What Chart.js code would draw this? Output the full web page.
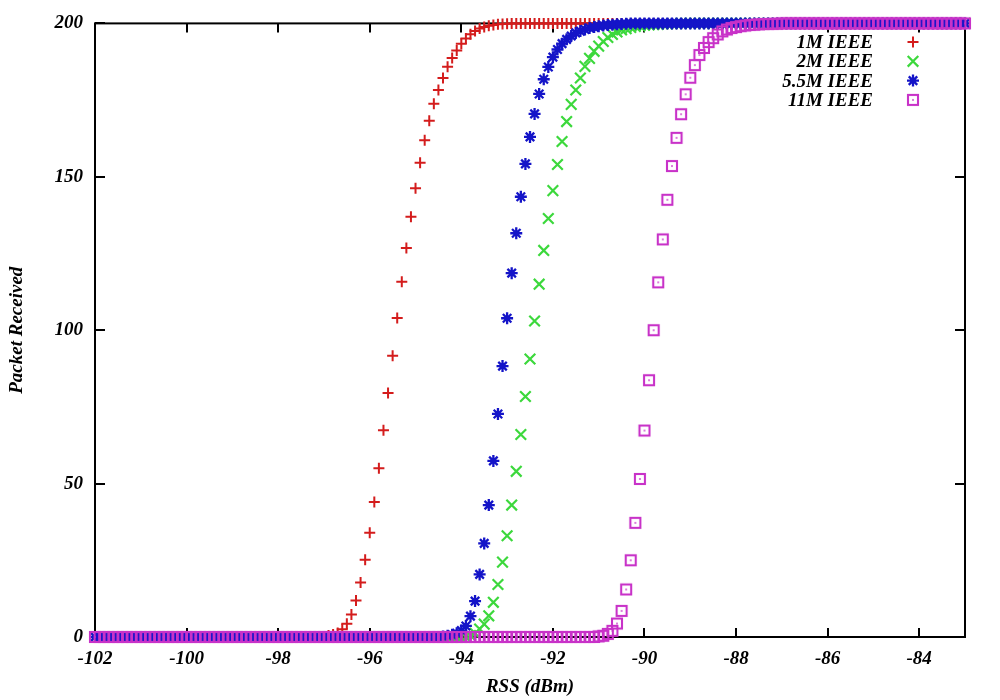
<!DOCTYPE html>
<html lang="en">
<head>
<meta charset="UTF-8">
<title>Packet Received vs RSS</title>
<script src="https://cdn.jsdelivr.net/npm/chart.js"></script>
<style>
  body { margin: 0; background: #fff; }
</style>
</head>
<body>
<canvas id="rssChart" width="1000" height="700"></canvas>
<script>
// RSS values (dBm), one sample every 0.1 dBm
const rss = [
  -102,-101.9,-101.8,-101.7,-101.6,-101.5,-101.4,-101.3,-101.2,-101.1,
  -101,-100.9,-100.8,-100.7,-100.6,-100.5,-100.4,-100.3,-100.2,-100.1,
  -100,-99.9,-99.8,-99.7,-99.6,-99.5,-99.4,-99.3,-99.2,-99.1,
  -99,-98.9,-98.8,-98.7,-98.6,-98.5,-98.4,-98.3,-98.2,-98.1,
  -98,-97.9,-97.8,-97.7,-97.6,-97.5,-97.4,-97.3,-97.2,-97.1,
  -97,-96.9,-96.8,-96.7,-96.6,-96.5,-96.4,-96.3,-96.2,-96.1,
  -96,-95.9,-95.8,-95.7,-95.6,-95.5,-95.4,-95.3,-95.2,-95.1,
  -95,-94.9,-94.8,-94.7,-94.6,-94.5,-94.4,-94.3,-94.2,-94.1,
  -94,-93.9,-93.8,-93.7,-93.6,-93.5,-93.4,-93.3,-93.2,-93.1,
  -93,-92.9,-92.8,-92.7,-92.6,-92.5,-92.4,-92.3,-92.2,-92.1,
  -92,-91.9,-91.8,-91.7,-91.6,-91.5,-91.4,-91.3,-91.2,-91.1,
  -91,-90.9,-90.8,-90.7,-90.6,-90.5,-90.4,-90.3,-90.2,-90.1,
  -90,-89.9,-89.8,-89.7,-89.6,-89.5,-89.4,-89.3,-89.2,-89.1,
  -89,-88.9,-88.8,-88.7,-88.6,-88.5,-88.4,-88.3,-88.2,-88.1,
  -88,-87.9,-87.8,-87.7,-87.6,-87.5,-87.4,-87.3,-87.2,-87.1,
  -87,-86.9,-86.8,-86.7,-86.6,-86.5,-86.4,-86.3,-86.2,-86.1,
  -86,-85.9,-85.8,-85.7,-85.6,-85.5,-85.4,-85.3,-85.2,-85.1,
  -85,-84.9,-84.8,-84.7,-84.6,-84.5,-84.4,-84.3,-84.2,-84.1,
  -84,-83.9,-83.8,-83.7,-83.6,-83.5,-83.4,-83.3,-83.2,-83.1,
  -83
];

const ieee1M = [
  0,0,0,0,0,0,0,0,0,0,
  0,0,0,0,0,0,0,0,0,0,
  0,0,0,0,0,0,0,0,0,0,
  0,0,0,0,0,0,0,0,0,0,
  0,0,0,0,0,0,0,0,0,0,
  0,0.5,0.8,1.3,2.5,4.3,7.3,11.9,17.8,25.2,
  34,44,55,67.4,79.5,91.7,104,115.8,126.8,137,
  146.3,154.6,161.9,168.3,173.8,178.3,182.2,185.9,188.7,191.2,
  193.4,195.1,196.5,197.5,198.3,198.8,199.2,199.5,199.7,199.8,
  199.9,200,200,200,200,200,200,200,200,200,
  200,200,200,200,200,200,200,200,200,200,
  200,200,200,200,200,200,200,200,200,200,
  200,200,200,200,200,200,200,200,200,200,
  200,200,200,200,200,200,200,200,200,200,
  200,200,200,200,200,200,200,200,200,200,
  200,200,200,200,200,200,200,200,200,200,
  200,200,200,200,200,200,200,200,200,200,
  200,200,200,200,200,200,200,200,200,200,
  200,200,200,200,200,200,200,200,200,200,
  200
];

const ieee2M = [
  0,0,0,0,0,0,0,0,0,0,
  0,0,0,0,0,0,0,0,0,0,
  0,0,0,0,0,0,0,0,0,0,
  0,0,0,0,0,0,0,0,0,0,
  0,0,0,0,0,0,0,0,0,0,
  0,0,0,0,0,0,0,0,0,0,
  0,0,0,0,0,0,0,0,0,0,
  0,0,0,0,0,0,0,0,0,0,
  0,0,0.5,1.2,2.6,4.2,6.9,11.3,17.1,24.4,
  33,43,54,66,78.4,90.6,103,115,126,136.4,
  145.5,154,161.5,168,173.6,178.3,182.2,186,188.6,190.9,
  192.6,194.1,195.4,196.4,197.2,197.9,198.3,198.7,199,199.2,
  199.4,199.5,199.6,199.7,199.8,199.8,199.9,199.9,200,200,
  200,200,200,200,200,200,200,200,200,200,
  200,200,200,200,200,200,200,200,200,200,
  200,200,200,200,200,200,200,200,200,200,
  200,200,200,200,200,200,200,200,200,200,
  200,200,200,200,200,200,200,200,200,200,
  200,200,200,200,200,200,200,200,200,200,
  200
];

const ieee55M = [
  0,0,0,0,0,0,0,0,0,0,
  0,0,0,0,0,0,0,0,0,0,
  0,0,0,0,0,0,0,0,0,0,
  0,0,0,0,0,0,0,0,0,0,
  0,0,0,0,0,0,0,0,0,0,
  0,0,0,0,0,0,0,0,0,0,
  0,0,0,0,0,0,0,0,0,0,
  0,0,0,0,0,0,0.2,0.4,0.7,1.2,
  2.1,3.6,6.8,11.7,20.4,30.5,43,57.4,72.7,88.3,
  103.9,118.6,131.6,143.5,154.2,163,170.5,177,181.8,185.8,
  189,191.5,193.4,194.8,195.9,196.9,197.5,198,198.5,198.8,
  199.1,199.3,199.5,199.6,199.7,199.8,199.9,200,200,200,
  200,200,200,200,200,200,200,200,200,200,
  200,200,200,200,200,200,200,200,200,200,
  200,200,200,200,200,200,200,200,200,200,
  200,200,200,200,200,200,200,200,200,200,
  200,200,200,200,200,200,200,200,200,200,
  200,200,200,200,200,200,200,200,200,200,
  200,200,200,200,200,200,200,200,200,200,
  200
];

const ieee11M = [
  0,0,0,0,0,0,0,0,0,0,
  0,0,0,0,0,0,0,0,0,0,
  0,0,0,0,0,0,0,0,0,0,
  0,0,0,0,0,0,0,0,0,0,
  0,0,0,0,0,0,0,0,0,0,
  0,0,0,0,0,0,0,0,0,0,
  0,0,0,0,0,0,0,0,0,0,
  0,0,0,0,0,0,0,0,0,0,
  0,0,0,0,0,0,0,0,0,0,
  0,0,0,0,0,0,0,0,0,0,
  0,0,0,0,0,0,0,0,0,0,
  0.2,0.4,1,2,4.4,8.5,15.5,25,37.2,51.5,
  67.3,83.7,100,115.6,129.6,142.5,153.5,162.7,170.4,176.9,
  182.3,186.4,189.7,192,193.9,195.2,196.4,197.4,198,198.5,
  198.8,199.1,199.3,199.5,199.6,199.7,199.8,199.8,199.9,199.9,
  200,200,200,200,200,200,200,200,200,200,
  200,200,200,200,200,200,200,200,200,200,
  200,200,200,200,200,200,200,200,200,200,
  200,200,200,200,200,200,200,200,200,200,
  200
];

const seriesNames = ['1M IEEE', '2M IEEE', '5.5M IEEE', '11M IEEE'];

[ieee1M, ieee2M, ieee55M, ieee11M].forEach((s, i) => {
  if (s.length !== rss.length) console.warn(seriesNames[i] + ' has ' + s.length + ' values');
});

const serif = '"Liberation Serif", "Times New Roman", serif';
const black = '#000';

// open square with a dot, like gnuplot's point type 4
function squareDot(color) {
  const c = document.createElement('canvas');
  c.width = 14; c.height = 14;
  const g = c.getContext('2d');
  g.strokeStyle = color;
  g.lineWidth = 2.1;
  g.strokeRect(2, 2, 10, 10);
  g.fillStyle = color;
  g.fillRect(6.2, 6.2, 1.6, 1.6);
  return c;
}

const pts = (ys) => rss.map((x, i) => ({ x: x, y: ys[i] }));

const datasets = [
  { label: seriesNames[0], data: pts(ieee1M), borderColor: '#d41c1c', backgroundColor: '#d41c1c',
    pointStyle: 'cross', pointRadius: 5.5, pointBorderWidth: 2, order: 4 },
  { label: seriesNames[1], data: pts(ieee2M), borderColor: '#3cd83c', backgroundColor: '#3cd83c',
    pointStyle: 'crossRot', pointRadius: 7.5, pointBorderWidth: 2.2, order: 3 },
  { label: seriesNames[2], data: pts(ieee55M), borderColor: '#1414c8', backgroundColor: '#1414c8',
    pointStyle: 'star', pointRadius: 6, pointBorderWidth: 2.3, order: 2 },
  { label: seriesNames[3], data: pts(ieee11M), borderColor: '#c832c8', backgroundColor: 'rgba(0,0,0,0)',
    pointStyle: squareDot('#c832c8'), pointRadius: 7, pointBorderWidth: 2, order: 1 }
];
datasets.forEach(d => { d.showLine = false; d.clip = false; });

const framePlugin = {
  id: 'frame',
  beforeDatasetsDraw(chart) {
    const { ctx, chartArea: a, scales: { x, y } } = chart;
    ctx.save();
    ctx.strokeStyle = black;
    ctx.lineWidth = 2;
    ctx.strokeRect(a.left, a.top, a.right - a.left, a.bottom - a.top);
    ctx.beginPath();
    x.ticks.forEach(t => {
      const px = Math.round(x.getPixelForValue(t.value));
      ctx.moveTo(px, a.bottom); ctx.lineTo(px, a.bottom - 9);
      ctx.moveTo(px, a.top); ctx.lineTo(px, a.top + 9);
    });
    y.ticks.forEach(t => {
      const py = Math.round(y.getPixelForValue(t.value));
      ctx.moveTo(a.left, py); ctx.lineTo(a.left + 10, py);
      ctx.moveTo(a.right, py); ctx.lineTo(a.right - 10, py);
    });
    ctx.stroke();
    ctx.restore();
  },
  afterDraw(chart) {
    // key, top right inside the plot
    const ctx = chart.ctx;
    const textRight = 873, markX = 913, top = 42, step = 19.3;
    ctx.save();
    ctx.font = 'italic bold 19px ' + serif;
    ctx.textAlign = 'right';
    ctx.textBaseline = 'middle';
    chart.data.datasets.forEach((d, i) => {
      const yy = top + i * step;
      ctx.fillStyle = black;
      ctx.fillText(d.label, textRight, yy + 1);
      ctx.strokeStyle = d.borderColor;
      ctx.fillStyle = d.backgroundColor;
      ctx.lineWidth = d.pointBorderWidth;
      Chart.helpers.drawPoint(ctx, {
        pointStyle: d.pointStyle, radius: d.pointRadius, rotation: 0, borderWidth: d.pointBorderWidth
      }, markX, yy);
    });
    ctx.restore();
  }
};

const tickFont = { family: serif, size: 19, style: 'italic', weight: 'bold' };

new Chart(document.getElementById('rssChart'), {
  type: 'scatter',
  data: { datasets: datasets },
  options: {
    responsive: false,
    animation: false,
    devicePixelRatio: 1,
    layout: { padding: { left: 0, right: 35, top: 23, bottom: 0 } },
    plugins: { legend: { display: false }, tooltip: { enabled: false } },
    scales: {
      x: {
        type: 'linear',
        min: -102, max: -83,
        grid: { display: false, drawTicks: false },
        border: { display: false },
        ticks: { stepSize: 2, includeBounds: false, color: black, font: tickFont, padding: 11, maxRotation: 0 },
        title: { display: true, text: 'RSS (dBm)', color: black, font: tickFont, padding: { top: 0, bottom: 2 } },
        afterFit(scale) { scale.height = 63; }
      },
      y: {
        min: 0, max: 200,
        grid: { display: false, drawTicks: false },
        border: { display: false },
        ticks: { stepSize: 50, color: black, font: tickFont, padding: 12 },
        title: { display: true, text: 'Packet Received', color: black, font: tickFont, padding: { top: 6, bottom: 0 } },
        afterFit(scale) { scale.width = 95; }
      }
    }
  },
  plugins: [framePlugin]
});
</script>
</body>
</html>
